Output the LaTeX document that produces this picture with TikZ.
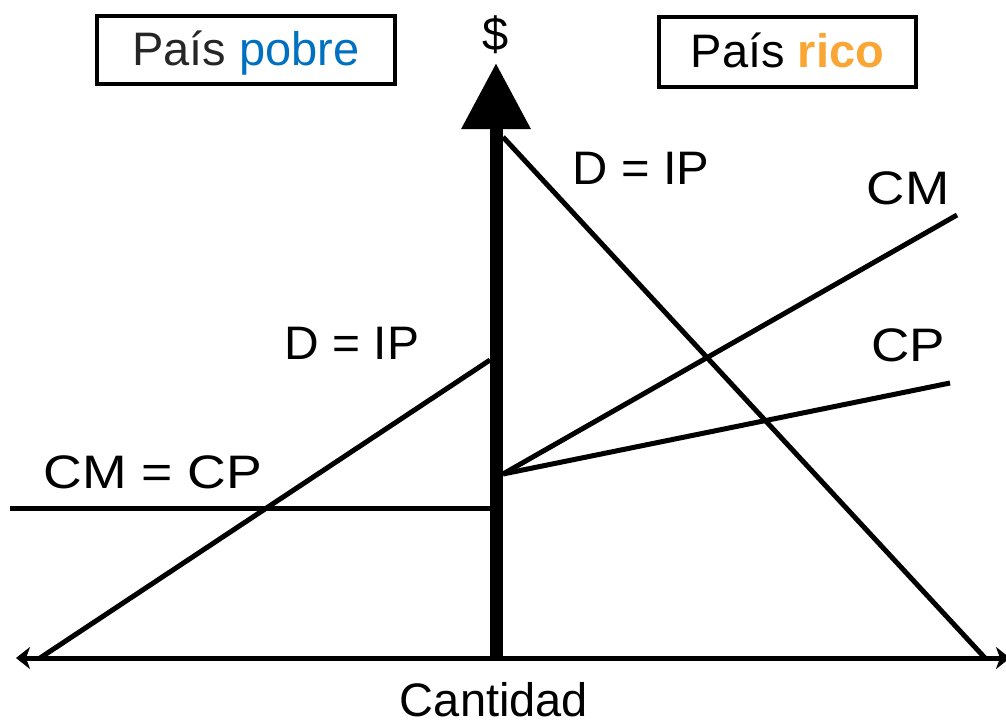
\documentclass[tikz,border=0pt]{standalone}
\usepackage{fontspec}
\setmainfont{Liberation Sans}
\usetikzlibrary{arrows.meta}
\definecolor{pobreblue}{HTML}{0070C0}
\definecolor{ricoorange}{HTML}{FAA635}
\definecolor{darktext}{HTML}{262626}
\begin{document}
\begin{tikzpicture}[x=1pt,y=-1pt,
  lbl/.style={font=\fontsize{47}{52}\selectfont, inner sep=0pt, anchor=base},
  curve/.style={line width=5pt},
  titlebox/.style={draw, line width=3.5pt, font=\fontsize{47}{52}\selectfont, text height=34pt, text depth=4pt, inner sep=0pt}]
\useasboundingbox (0,0) rectangle (1006,720);
% coordinates
\coordinate (xl) at (16,658);
\coordinate (xr) at (1010,658);
\coordinate (o) at (496,658);
\coordinate (ytop) at (496,63);
\coordinate (dr1) at (503,137);
\coordinate (dr2) at (985,658);
\coordinate (k) at (503,474);
\coordinate (cm2) at (957,215);
\coordinate (cp2) at (950,383);
\coordinate (dp1) at (490,360);
\coordinate (dp2) at (40,658);
\coordinate (cc1) at (10,508);
\coordinate (cc2) at (490,508);
% horizontal axis
\draw[line width=5pt, {Stealth[length=14pt,width=22pt,inset=4pt]}-{Stealth[length=14pt,width=22pt,inset=4pt]}] (xl) -- (xr);
% curves
\draw[curve] (dr1) -- (dr2);
\draw[curve] (k) -- (cm2);
\draw[curve] (k) -- (cp2);
\draw[curve] (dp1) -- (dp2);
\draw[curve] (cc1) -- (cc2);
% vertical axis
\draw[line width=13pt, -{Triangle[length=66pt,width=66pt]}] (o) -- (ytop);
% labels
\node[lbl] (dollar) at (496,50) {\$};
\node[lbl] (dipr) at (641,184) {\scalebox{1.04}[1]{D = IP}};
\node[lbl] (cm) at (908,204) {\scalebox{1.13}[1]{CM}};
\node[lbl] (cp) at (908,361) {\scalebox{1.13}[1]{CP}};
\node[lbl] (dipp) at (352,359) {\scalebox{1.02}[1]{D = IP}};
\node[lbl] (cmcp) at (153,488) {\scalebox{1.14}[1]{CM = CP}};
\node[lbl] (cant) at (494,716) {Cantidad};
% title boxes
\node[titlebox, minimum width=298pt, minimum height=68pt] (pobre) at (246,50) {\textcolor{darktext}{País} \textcolor{pobreblue}{pobre}};
\node[titlebox, minimum width=257pt, minimum height=70pt] (rico) at (787.5,52) {País \textcolor{ricoorange}{\textbf{rico}}};
\end{tikzpicture}
\end{document}
